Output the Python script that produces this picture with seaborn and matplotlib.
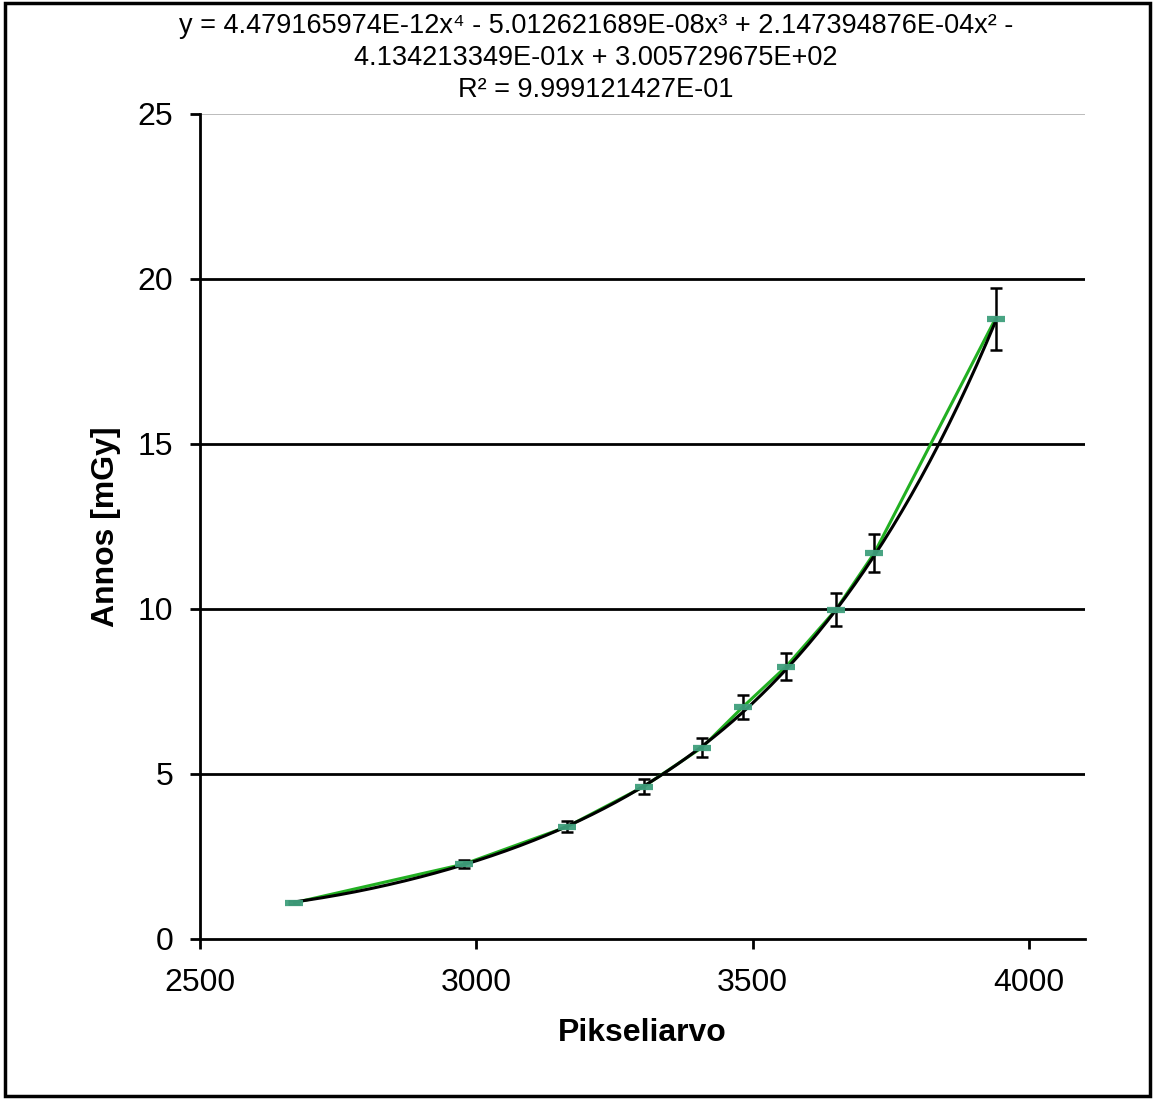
import numpy as np
import pandas as pd
import matplotlib
matplotlib.use("Agg")
import matplotlib.pyplot as plt
import seaborn as sns

# Data
pixel_values = [2671, 2978, 3164, 3303, 3408, 3482, 3560, 3650, 3720, 3939]
dose_mgy = [1.10, 2.27, 3.40, 4.62, 5.80, 7.03, 8.25, 9.97, 11.70, 18.80]
dose_err = [0.055, 0.11, 0.17, 0.23, 0.29, 0.35, 0.41, 0.50, 0.58, 0.94]

# Trendline coefficients (as printed on chart), highest power first
trend_coefs = [4.479165974E-12, -5.012621689E-08, 2.147394876E-04,
               -4.134213349E-01, 3.005729675E+02]

x_ticks = [2500, 3000, 3500, 4000]
y_ticks = [0, 5, 10, 15, 20, 25]

title_lines = [
    "y = 4.479165974E-12x\u2074 - 5.012621689E-08x\u00b3 + 2.147394876E-04x\u00b2 -",
    "4.134213349E-01x + 3.005729675E+02",
    "R\u00b2 = 9.999121427E-01",
]

sns.set_theme(style="white")
plt.rcParams['font.family'] = ['Liberation Sans', 'DejaVu Sans']
plt.rcParams['text.color'] = 'black'
plt.rcParams['axes.labelcolor'] = 'black'

df = pd.DataFrame({"Pikseliarvo": pixel_values, "Annos": dose_mgy})

fig = plt.figure(figsize=(11.55, 10.99), dpi=100)
ax = fig.add_axes([0.173, 0.1456, 0.766, 0.7507])

# horizontal gridlines
for yv in y_ticks[1:-1]:
    ax.axhline(yv, color="black", lw=2, zorder=0)
ax.axhline(25, color="#b0b0b0", lw=1.2, zorder=0)

# green connecting line
sns.lineplot(data=df, x="Pikseliarvo", y="Annos", ax=ax, color="#22b022",
             lw=2.2, zorder=2, sort=True)

# error bars
ax.errorbar(pixel_values, dose_mgy, yerr=dose_err, fmt="none", ecolor="black",
            elinewidth=1.8, capsize=4.5, capthick=1.8, zorder=3)

# trendline
xs = np.linspace(min(pixel_values), max(pixel_values), 300)
ys = np.polyval(trend_coefs, xs)
sns.lineplot(x=xs, y=ys, ax=ax, color="black", lw=2.2, zorder=4)

# dash markers
ax.plot(pixel_values, dose_mgy, linestyle="none", marker="_", markersize=12.5,
        markeredgewidth=4.5, color="#3f9f7c", zorder=5, alpha=0.95)

ax.set_xlim(2500, 4100)
ax.set_ylim(0, 25)
ax.set_xticks(x_ticks)
ax.set_yticks(y_ticks)
ax.tick_params(axis="both", labelsize=23, colors="black", length=7, width=2,
               direction="out")
ax.tick_params(axis="x", pad=14)
ax.tick_params(axis="y", pad=12)
ax.xaxis.set_ticks_position("bottom")
ax.yaxis.set_ticks_position("left")

for s in ["top", "right"]:
    ax.spines[s].set_visible(False)
for s in ["left", "bottom"]:
    ax.spines[s].set_color("black")
    ax.spines[s].set_linewidth(2)

ax.set_xlabel("Pikseliarvo", fontsize=23, fontweight="bold", labelpad=14,
              color="black")
ax.set_ylabel("Annos [mGy]", fontsize=23, fontweight="bold", labelpad=12,
              color="black")

for i, line in enumerate(title_lines):
    fig.text(0.516, 1 - (26 + 32 * i) / 1099, line, ha="center", va="center",
             fontsize=19.5, color="black")

# figure border
border = plt.Rectangle((0.004, 0.003), 0.992, 0.994, transform=fig.transFigure,
                       fill=False, edgecolor="black", lw=2.5)
fig.patches.append(border)

fig.savefig("out.png", dpi=100)
